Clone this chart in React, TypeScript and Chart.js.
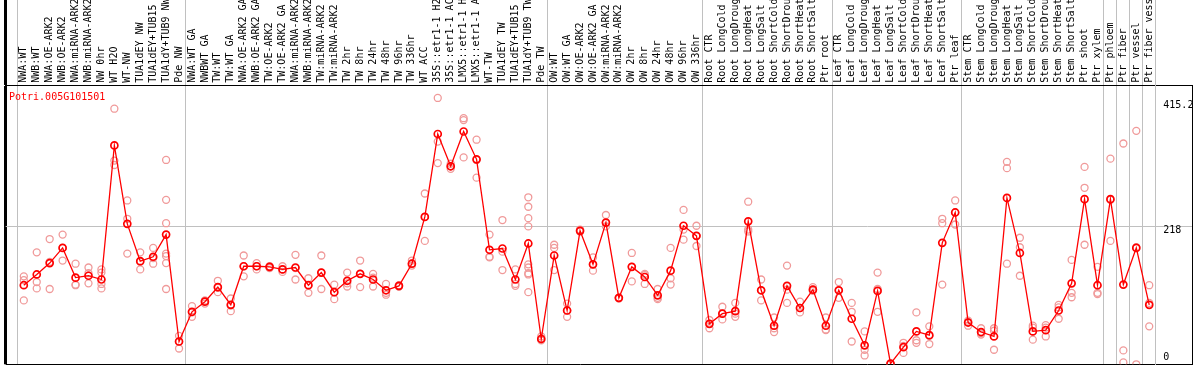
import React, { useEffect, useRef } from "react";
import { Chart, registerables } from "chart.js";

Chart.register(...registerables);

const geneId = "Potri.005G101501";

const categories: string[] = [
  "NWA:WT", "NWB:WT", "NWA:OE-ARK2", "NWB:OE-ARK2", "NWA:miRNA-ARK2", "NWB:miRNA-ARK2",
  "NW 0hr", "WT H2O", "WT-NW", "TUA1dEY NW", "TUA1dEY+TUB15 NW", "TUA1dY+TUB9 NW", "Pde NW",
  "NWA:WT GA", "NWBWT GA", "TW:WT", "TW:WT GA", "NWA:OE-ARK2 GA", "NWB:OE-ARK2 GA",
  "TW:OE-ARK2", "TW:OE-ARK2 GA", "NWA:miRNA-ARK2", "NWB:miRNA-ARK2", "TW:miRNA-ARK2",
  "TW:miRNA-ARK2", "TW 2hr", "TW 8hr", "TW 24hr", "TW 48hr", "TW 96hr", "TW 336hr", "WT ACC",
  "35S::etr1-1 H2O", "35S::etr1-1 ACC", "LMX5::etr1-1 H2O", "LMX5::etr1-1 ACC", "WT-TW",
  "TUA1dEY TW", "TUA1dEY+TUB15 TW", "TUA1dY+TUB9 TW", "Pde TW",
  "OW:WT", "OW:WT GA", "OW:OE-ARK2", "OW:OE-ARK2 GA", "OW:miRNA-ARK2", "OW:miRNA-ARK2",
  "OW 2hr", "OW 8hr", "OW 24hr", "OW 48hr", "OW 96hr", "OW 336hr",
  "Root CTR", "Root LongCold", "Root LongDrought", "Root LongHeat", "Root LongSalt",
  "Root ShortCold", "Root ShortDrought", "Root ShortHeat", "Root ShortSalt", "Ptr root",
  "Leaf CTR", "Leaf LongCold", "Leaf LongDrought", "Leaf LongHeat", "Leaf LongSalt",
  "Leaf ShortCold", "Leaf ShortDrought", "Leaf ShortHeat", "Leaf ShortSalt", "Ptr leaf",
  "Stem CTR", "Stem LongCold", "Stem LongDrought", "Stem LongHeat", "Stem LongSalt",
  "Stem ShortCold", "Stem ShortDrought", "Stem ShortHeat", "Stem ShortSalt", "Ptr shoot",
  "Ptr xylem", "Ptr phloem", "Ptr fiber", "Ptr vessel", "Ptr fiber vessel",
];

// number of consecutive categories in each separated group
const groupSizes: number[] = [13, 28, 12, 10, 10, 11, 1, 1, 1, 1];

const meanValues: number[] = [
  125, 142, 160, 184, 137, 140, 134, 346, 222, 163, 170, 205, 36,
  83, 99, 122, 94, 155, 155, 154, 150, 153, 125, 145, 114, 132, 143, 134, 117, 124, 159, 233,
  364, 313, 368, 324, 181, 183, 134, 191, 40,
  172, 85, 211, 158, 224, 105, 154, 138, 109, 148, 219, 203,
  64, 80, 84, 226, 117, 61, 124, 89, 118, 61,
  117, 72, 30, 116, 1, 27, 52, 46, 192, 240,
  66, 51, 44, 263, 176, 52, 54, 85, 128, 261, 125,
  261, 126, 184, 94,
];

const replicateValues: number[][] = [
  [139, 133, 101], [177, 130, 120], [198, 162, 119], [205, 184, 164], [159, 126, 125],
  [153, 144, 128], [150, 145, 127, 120], [404, 322, 315], [259, 230, 175], [177, 162, 150],
  [184, 168, 159], [323, 260, 223, 175, 171, 160, 119], [45, 36, 25],
  [92, 82, 75], [101, 100, 96], [132, 121, 114], [104, 93, 84], [172, 155, 139],
  [160, 155, 150], [155, 154, 152], [155, 150, 146], [173, 152, 134], [136, 125, 113],
  [172, 145, 119], [126, 114, 103], [145, 128, 123], [164, 143, 122], [143, 137, 123],
  [127, 113, 110], [125, 123, 123], [164, 159, 156], [270, 233, 195], [421, 352, 318],
  [317, 313, 309], [389, 386, 327], [355, 323, 295], [205, 170, 169], [228, 178, 149],
  [150, 127, 124], [264, 249, 231, 218, 158, 153, 144, 142, 114], [44, 41, 38],
  [189, 184, 149], [96, 85, 75], [213, 211, 210], [169, 158, 148], [236, 224, 218],
  [105, 105, 104], [176, 154, 131], [143, 141, 127], [119, 105, 103], [184, 136, 126],
  [244, 213, 197], [219, 203, 187],
  [70, 64, 57], [91, 80, 71], [97, 80, 75], [257, 213, 210], [134, 117, 101],
  [74, 57, 51], [156, 118, 97], [99, 89, 82], [122, 118, 116], [74, 55, 54],
  [130, 117, 105], [97, 83, 36], [52, 23, 14], [145, 119, 83], [1, 1, 0],
  [34, 29, 18], [82, 38, 34], [60, 45, 32], [230, 223, 126], [259, 240, 221],
  [69, 67, 61], [57, 49, 47], [57, 53, 23], [320, 310, 159], [200, 185, 140],
  [61, 58, 39], [62, 58, 44], [94, 90, 72], [165, 113, 106], [312, 279, 189], [154, 113, 111],
  [325, 260, 195], [349, 22, 3], [369, 185, 0], [125, 97, 60],
];

const yTickValues: number[] = [0, 218, 415.2];
const yAxisMax = 441;

const MONO = '"DejaVu Sans Mono", "Liberation Mono", monospace';
const TRANSPARENT = "rgba(0,0,0,0)";
const GRID_GRAY = "#c0c0c0";

// x-scale limits: categories sit at integer positions
const X_MIN = -1.4;
const X_MAX = categories.length - 0.5;

function boundaryValues(): number[] {
  const out: number[] = [-0.5];
  let acc = 0;
  for (const n of groupSizes) {
    acc += n;
    out.push(acc - 0.5);
  }
  return out;
}

const titlePlugin = {
  id: "geneTitle",
  afterDraw(chart: any) {
    const { ctx } = chart;
    ctx.save();
    ctx.font = `10px ${MONO}`;
    ctx.fillStyle = "#ff0000";
    ctx.textBaseline = "alphabetic";
    ctx.textAlign = "left";
    ctx.fillText(geneId, 9, 100);
    ctx.restore();
  },
};

export default function App() {
  const canvasRef = useRef<HTMLCanvasElement | null>(null);

  useEffect(() => {
    const canvas = canvasRef.current;
    if (!canvas) return;
    const bounds = boundaryValues();
    const boundSet = new Set(bounds);

    const meanPoints = meanValues.map((v, i) => ({ x: i, y: v }));
    const repPoints: { x: number; y: number }[] = [];
    replicateValues.forEach((reps, i) => reps.forEach((v) => repPoints.push({ x: i, y: v })));

    const chart = new Chart(canvas, {
      type: "line",
      data: {
        datasets: [
          {
            label: geneId,
            data: meanPoints,
            borderColor: "#ff0000",
            borderWidth: 1.3,
            pointRadius: 3.5,
            pointBorderWidth: 1.7,
            pointBorderColor: "#ff0000",
            pointBackgroundColor: TRANSPARENT,
            tension: 0,
            order: 0,
          },
          {
            label: "replicates",
            data: repPoints,
            showLine: false,
            pointRadius: 3.5,
            pointBorderWidth: 1.3,
            pointBorderColor: "#f09a9a",
            pointBackgroundColor: TRANSPARENT,
            order: 1,
          },
        ],
      },
      options: {
        animation: false,
        responsive: false,
        devicePixelRatio: 1,
        layout: { padding: { top: 0, left: 0, right: 0, bottom: 1.7 } },
        plugins: {
          legend: { display: false },
          tooltip: { enabled: false },
          title: { display: false },
        },
        scales: {
          x: {
            type: "linear",
            position: "top",
            min: X_MIN,
            max: X_MAX,
            afterBuildTicks: (scale: any) => {
              const vals = [X_MIN, ...bounds, ...categories.map((_, i) => i)].sort((a, b) => a - b);
              scale.ticks = vals.map((v) => ({ value: v }));
            },
            afterFit: (scale: any) => {
              scale.height = 85.3;
            },
            grid: {
              drawOnChartArea: true,
              drawTicks: true,
              tickLength: 85.3,
              lineWidth: (ctx: any) => (ctx.tick && ctx.tick.value === X_MIN ? 3 : 1),
              color: (ctx: any) => {
                const v = ctx.tick ? ctx.tick.value : NaN;
                if (v === X_MIN) return "#000000";
                if (boundSet.has(v)) return GRID_GRAY;
                return TRANSPARENT;
              },
            },
            border: { display: true, color: "#000000", width: 1 },
            ticks: {
              autoSkip: false,
              minRotation: 90,
              maxRotation: 90,
              padding: -82.7,
              labelOffset: 12,
              color: "#000000",
              font: { family: MONO, size: 10 },
              callback: (value: any) => {
                const v = Number(value);
                return Number.isInteger(v) && v >= 0 && v < categories.length ? categories[v] : "";
              },
            },
          },
          y: {
            type: "linear",
            position: "right",
            weight: 0,
            min: 0,
            max: yAxisMax,
            afterBuildTicks: (scale: any) => {
              scale.ticks = [...yTickValues, yAxisMax].map((v) => ({ value: v }));
            },
            afterFit: (scale: any) => {
              scale.width = 37;
            },
            grid: {
              drawOnChartArea: true,
              drawTicks: true,
              tickLength: 37,
              color: (ctx: any) => {
                const v = ctx.tick ? ctx.tick.value : NaN;
                if (v === 0 || v === yAxisMax) return "#000000";
                if (v === 218) return GRID_GRAY;
                return TRANSPARENT;
              },
            },
            border: { display: true, color: GRID_GRAY, width: 1 },
            ticks: {
              padding: -29.4,
              labelOffset: 4,
              color: "#000000",
              font: (ctx: any) => ({
                family: MONO,
                size: 10,
                lineHeight: ctx.tick && ctx.tick.value === 0 ? 2.12 : 1.2,
              }),
              callback: (value: any) => {
                const v = Number(value);
                if (v === yAxisMax) return "";
                if (v === 0) return ["0", ""];
                return String(v);
              },
            },
          },
          frame: {
            type: "linear",
            position: "right",
            weight: 1,
            afterFit: (scale: any) => {
              scale.width = 1.3;
            },
            grid: { drawOnChartArea: false, drawTicks: false },
            border: { display: true, color: "#000000", width: 1 },
            ticks: { display: false },
          },
        },
      } as any,
      plugins: [titlePlugin],
    });

    return () => chart.destroy();
  }, []);

  return (
    <div style={{ position: "absolute", left: 0, top: 0, width: 1194, height: 370, background: "#ffffff" }}>
      <canvas ref={canvasRef} width={1194} height={370} style={{ display: "block", width: 1194, height: 370 }} />
    </div>
  );
}
